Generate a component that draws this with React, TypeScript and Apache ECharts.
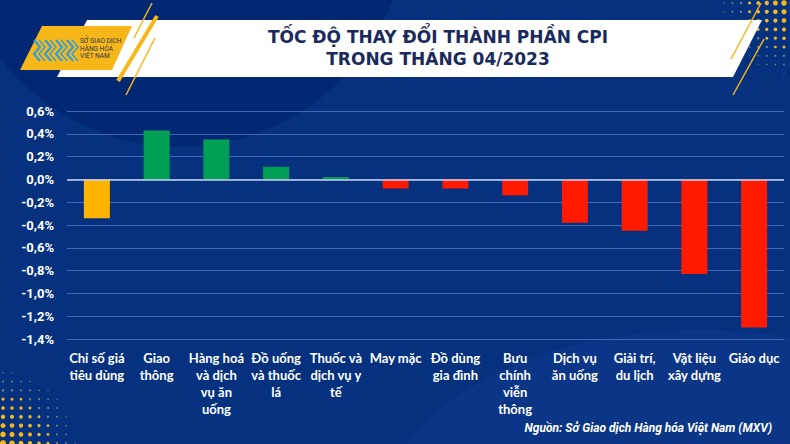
import React, { useEffect, useRef } from "react";
import * as echarts from "echarts";

const categories = [
  "Chỉ số giá\ntiêu dùng",
  "Giao\nthông",
  "Hàng hoá\nvà dịch\nvụ ăn\nuống",
  "Đồ uống\nvà thuốc\nlá",
  "Thuốc và\ndịch vụ y\ntế",
  "May mặc",
  "Đồ dùng\ngia đình",
  "Bưu\nchính\nviễn\nthông",
  "Dịch vụ\năn uống",
  "Giải trí,\ndu lịch",
  "Vật liệu\nxây dựng",
  "Giáo dục",
];
const values = [-0.34, 0.43, 0.35, 0.11, 0.02, -0.08, -0.08, -0.14, -0.38, -0.45, -0.83, -1.3];
const yMin = -1.4;
const yMax = 0.6;
const yStep = 0.2;
const titleLines = ["TỐC ĐỘ THAY ĐỔI THÀNH PHẦN CPI", "TRONG THÁNG 04/2023"];
const sourceText = "Nguồn: Sở Giao dịch Hàng hóa Việt Nam (MXV)";
const logoLines = ["SỞ GIAO DỊCH", "HÀNG HÓA", "VIỆT NAM"];

const ORANGE = "#FFB400";
const GREEN = "#00A054";
const RED = "#FF1A00";
const YELLOW = "#F7B718";
const LABEL_FONT = "Lato, Roboto, sans-serif";

function dots(x0: number, y0: number, cols: number, rows: number, dx: number, dy: number, cx: number, cy: number, scale: number) {
  const out: any[] = [];
  for (let i = 0; i < cols; i++) {
    for (let j = 0; j < rows; j++) {
      const x = x0 + i * dx;
      const y = y0 + j * dy;
      const d = Math.hypot(x - cx, y - cy);
      const r = 3.4 - d / scale;
      if (r < 0.5) continue;
      out.push({
        type: "circle",
        silent: true,
        shape: { cx: x, cy: y, r },
        style: { fill: r > 1.3 ? YELLOW : "rgba(200,190,120,0.6)" },
      });
    }
  }
  return out;
}

export default function App() {
  const ref = useRef<HTMLDivElement>(null);
  useEffect(() => {
    document.body.style.margin = "0";
    if (!ref.current) return;
    const chart = echarts.init(ref.current, undefined, { renderer: "svg" });
    const chevrons: any[] = [];
    for (let k = 0; k < 4; k++) {
      const bx = 34 + k * 11;
      chevrons.push({
        type: "polyline",
        silent: true,
        shape: { points: [[bx, 40], [bx + 6, 47], [bx, 54], [bx + 6, 61]] },
        style: { stroke: "#2f9fe0", lineWidth: 2.2, fill: "none" },
      });
      chevrons.push({
        type: "polyline",
        silent: true,
        shape: { points: [[bx + 5, 40], [bx + 11, 47], [bx + 5, 54], [bx + 11, 61]] },
        style: { stroke: "#2f9fe0", lineWidth: 1.4, fill: "none" },
      });
    }
    const option: any = {
      animation: false,
      backgroundColor: "#05317f",
      grid: { left: 67, right: 6, top: 111, bottom: 105, containLabel: false },
      xAxis: {
        type: "category",
        data: categories,
        position: "bottom",
        axisLine: { show: false },
        axisTick: { show: false },
        axisLabel: {
          interval: 0,
          color: "#ffffff",
          fontFamily: LABEL_FONT,
          fontWeight: "bold",
          fontSize: 13,
          lineHeight: 17,
          margin: 10,
          verticalAlign: "top",
        },
      },
      yAxis: {
        type: "value",
        min: yMin,
        max: yMax,
        interval: yStep,
        axisLine: { show: false },
        axisTick: { show: false },
        splitLine: { lineStyle: { color: "#4168b4", width: 1 } },
        axisLabel: {
          color: "#ffffff",
          fontFamily: "Roboto, sans-serif",
          fontWeight: "bold",
          fontSize: 13,
          margin: 13,
          formatter: (v: number) => {
            const s = (Math.abs(v) < 1e-9 ? 0 : v).toFixed(1).replace(".", ",");
            return s + "%";
          },
        },
      },
      series: [
        {
          type: "bar",
          barWidth: 26,
          data: values.map((v, i) => ({
            value: v,
            itemStyle: { color: i === 0 ? ORANGE : v >= 0 ? GREEN : RED },
          })),
          markLine: {
            silent: true,
            symbol: "none",
            label: { show: false },
            lineStyle: { color: "#c9d3ee", width: 1.5, type: "solid" },
            data: [{ yAxis: 0 }],
          },
          z: 3,
        },
      ],
      graphic: [
        {
          type: "circle",
          silent: true,
          z: -1,
          shape: { cx: 180, cy: -80, r: 227 },
          style: { fill: "rgba(0,25,95,0.35)" },
        },
        {
          type: "ellipse",
          silent: true,
          z: -1,
          shape: { cx: 700, cy: 520, rx: 320, ry: 190 },
          style: { fill: "rgba(40,80,170,0.18)" },
        },
        ...dots(698, 3, 12, 10, 8.6, 8.8, 800, -5, 28),
        ...dots(3, 364, 11, 10, 9, 8.8, -5, 450, 28),
        {
          type: "polygon",
          silent: true,
          shape: { points: [[87, 20], [762, 20], [733, 77], [57, 77]] },
          style: { fill: "#ffffff" },
        },
        {
          type: "polygon",
          silent: true,
          shape: { points: [[42, 26], [132, 26], [112, 70], [20, 70]] },
          style: { fill: YELLOW },
        },
        ...chevrons,
        {
          type: "text",
          silent: true,
          style: {
            text: logoLines.join("\n"),
            x: 80,
            y: 48.5,
            fill: "#2a3550",
            font: "6.5px Roboto, sans-serif",
            lineHeight: 7.5,
            textVerticalAlign: "middle",
          },
        },
        {
          type: "line",
          silent: true,
          shape: { x1: 157, y1: 16, x2: 118, y2: 81 },
          style: { stroke: YELLOW, lineWidth: 4 },
        },
        {
          type: "line",
          silent: true,
          shape: { x1: 152, y1: 3, x2: 134, y2: 38 },
          style: { stroke: YELLOW, lineWidth: 1.5 },
        },
        {
          type: "line",
          silent: true,
          shape: { x1: 155, y1: 38, x2: 126, y2: 95 },
          style: { stroke: YELLOW, lineWidth: 1.5 },
        },
        {
          type: "line",
          silent: true,
          shape: { x1: 761, y1: 3, x2: 731, y2: 59 },
          style: { stroke: YELLOW, lineWidth: 1.5 },
        },
        {
          type: "line",
          silent: true,
          shape: { x1: 764, y1: 39, x2: 733, y2: 95 },
          style: { stroke: YELLOW, lineWidth: 1.5 },
        },
        ...titleLines.map((t, i) => ({
          type: "text",
          silent: true,
          style: {
            text: t,
            x: 438,
            y: 37 + i * 21.5,
            fill: "#1b2a5c",
            font: "bold 17px 'DejaVu Sans', sans-serif",
            textAlign: "center",
            textVerticalAlign: "middle",
          },
        })),
        {
          type: "text",
          silent: true,
          style: {
            text: sourceText,
            x: 772,
            y: 428,
            fill: "#ffffff",
            font: "italic bold 12px Roboto, sans-serif",
            textAlign: "right",
            textVerticalAlign: "middle",
          },
        },
      ],
    };
    chart.setOption(option);
    return () => chart.dispose();
  }, []);
  return <div ref={ref} style={{ width: 790, height: 444 }} />;
}
